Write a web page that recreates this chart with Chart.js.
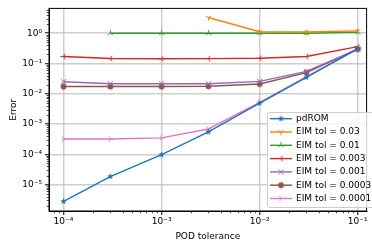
<!DOCTYPE html>
<html>
<head>
<meta charset="utf-8">
<script src="https://cdn.jsdelivr.net/npm/chart.js@4.4.1/dist/chart.umd.min.js"></script>
<style>
  html, body { margin: 0; padding: 0; background: #fff; }
  #wrap { width: 372px; height: 248px; }
</style>
</head>
<body>
<div id="wrap"><canvas id="chart" width="372" height="248"></canvas></div>
<script>
// POD tolerance values (x) and error per series (null = not computed)
const podTol   = [1e-4, 3e-4, 1e-3, 3e-3, 1e-2, 3e-2, 1e-1];
const pdROM    = [2.8e-6, 1.85e-5, 9.8e-5, 5.5e-4, 4.9e-3, 3.5e-2, 0.31];
const eim03    = [null, null, null, 3.3, 1.12, 1.1, 1.2];
const eim01    = [null, 1.0, 1.0, 1.0, 1.0, 1.0, 1.08];
const eim003   = [0.17, 0.147, 0.143, 0.145, 0.15, 0.17, 0.36];
const eim001   = [0.025, 0.0215, 0.0215, 0.0215, 0.0257, 0.055, 0.3];
const eim0003  = [0.0174, 0.0174, 0.0174, 0.0177, 0.021, 0.05, 0.3];
const eim0001  = [3.2e-4, 3.2e-4, 3.5e-4, 6.9e-4, 5.2e-3, 3.7e-2, 0.3];
const seriesNames = ['pdROM', 'EIM tol = 0.03', 'EIM tol = 0.01', 'EIM tol = 0.003',
                     'EIM tol = 0.001', 'EIM tol = 0.0003', 'EIM tol = 0.0001'];

const xTicks = [1e-4, 1e-3, 1e-2, 1e-1];
const xTickLabels = ['10⁻⁴', '10⁻³', '10⁻²', '10⁻¹'];
const yTicks = [1e-5, 1e-4, 1e-3, 1e-2, 1e-1, 1];
const yTickLabels = ['10⁻⁵', '10⁻⁴', '10⁻³', '10⁻²', '10⁻¹', '10⁰'];

const FONT = 'DejaVu Sans';

// matplotlib-like marker images
function marker(kind, color){
  const s = 11, c = document.createElement('canvas');
  c.width = s; c.height = s;
  const g = c.getContext('2d');
  const m = s / 2;
  g.strokeStyle = color; g.fillStyle = color; g.lineWidth = 1;
  g.beginPath();
  if (kind === 'star'){
    for (let i = 0; i < 10; i++){
      const r = i % 2 ? 1.4 : 3.5;
      const a = -Math.PI / 2 + i * Math.PI / 5;
      const px = m + r * Math.cos(a), py = m + r * Math.sin(a);
      i ? g.lineTo(px, py) : g.moveTo(px, py);
    }
    g.closePath(); g.fill();
  } else if (kind === 'circle'){
    g.arc(m, m, 2.9, 0, Math.PI * 2); g.fill();
  } else if (kind === 'x'){
    g.moveTo(m - 2.7, m - 2.7); g.lineTo(m + 2.7, m + 2.7);
    g.moveTo(m - 2.7, m + 2.7); g.lineTo(m + 2.7, m - 2.7);
    g.stroke();
  } else {
    const angs = {down: [90, 210, 330], up: [270, 30, 150], left: [180, 300, 60], right: [0, 120, 240]}[kind];
    angs.forEach(a => {
      const r = a * Math.PI / 180;
      g.moveTo(m, m); g.lineTo(m + 3.2 * Math.cos(r), m + 3.2 * Math.sin(r));
    });
    g.stroke();
  }
  return c;
}

const colors = ['#1f77b4', '#ff7f0e', '#2ca02c', '#d62728', '#9467bd', '#8c564b', '#e377c2'];
const kinds = ['star', 'down', 'up', 'left', 'x', 'circle', 'right'];
const allSeries = [pdROM, eim03, eim01, eim003, eim001, eim0003, eim0001];
const markers = kinds.map((k, i) => marker(k, colors[i]));

const datasets = allSeries.map((s, i) => ({
  label: seriesNames[i],
  data: podTol.map((x, j) => ({x: x, y: s[j]})).filter(p => p.y !== null),
  borderColor: colors[i],
  backgroundColor: colors[i],
  borderWidth: 1.4,
  pointStyle: markers[i],
  pointRadius: 3,
  showLine: true,
  fill: false
}));

// minor ticks, top/right spines and the legend box
const decor = {
  id: 'decor',
  afterDraw(chart){
    const ctx = chart.ctx, a = chart.chartArea;
    const xs = chart.scales.x, ys = chart.scales.y;
    ctx.save();
    ctx.strokeStyle = '#000'; ctx.lineWidth = 0.7;
    ctx.beginPath();
    for (let d = -6; d <= 1; d++){
      for (let k = 2; k <= 9; k++){
        const v = k * Math.pow(10, d);
        if (v > xs.min && v < xs.max){
          const px = Math.round(xs.getPixelForValue(v)) + 0.5;
          ctx.moveTo(px, a.bottom); ctx.lineTo(px, a.bottom + 2.3);
        }
        if (v > ys.min && v < ys.max){
          const py = Math.round(ys.getPixelForValue(v)) + 0.5;
          ctx.moveTo(a.left, py); ctx.lineTo(a.left - 2.3, py);
        }
      }
    }
    ctx.stroke();
    ctx.lineWidth = 1;
    ctx.strokeRect(a.left, a.top, a.right - a.left, a.bottom - a.top);

    // legend
    const bx = 267, by = 112, bw = 112, bh = 95;
    ctx.fillStyle = 'rgba(255,255,255,0.8)';
    ctx.strokeStyle = '#cccccc';
    ctx.beginPath();
    ctx.roundRect(bx + 0.5, by + 0.5, bw, bh, 2.5);
    ctx.fill(); ctx.stroke();
    ctx.font = '9px "' + FONT + '"';
    ctx.textBaseline = 'middle';
    seriesNames.forEach((name, i) => {
      const y = 118.7 + i * 13.3;
      ctx.strokeStyle = colors[i]; ctx.lineWidth = 1.4;
      ctx.beginPath(); ctx.moveTo(270, y); ctx.lineTo(292, y); ctx.stroke();
      ctx.drawImage(markers[i], 281 - markers[i].width / 2, y - markers[i].height / 2);
      ctx.fillStyle = '#000';
      ctx.fillText(name, 296, y);
    });
    ctx.restore();
  }
};

const tickFont = {family: FONT, size: 9};

new Chart(document.getElementById('chart'), {
  type: 'line',
  data: {datasets: datasets},
  options: {
    responsive: false,
    animation: false,
    layout: {padding: {top: 2, right: 0, left: 0, bottom: 0}},
    plugins: {legend: {display: false}, tooltip: {enabled: false}},
    scales: {
      x: {
        type: 'logarithmic',
        bounds: 'data',
        min: Math.pow(10, -4.148),
        max: Math.pow(10, -0.91),
        afterBuildTicks: s => { s.ticks = xTicks.map(v => ({value: v, major: true})); },
        afterFit: s => { s.height = 37; },
        ticks: {
          autoSkip: false, maxRotation: 0, padding: 1,
          color: '#000', font: tickFont,
          callback: (v) => xTickLabels[xTicks.indexOf(v)]
        },
        grid: {color: 'rgba(190,190,190,0.75)', lineWidth: 1.5, tickColor: '#000', tickLength: 4, tickWidth: 1},
        border: {color: '#000', width: 1},
        title: {display: true, text: 'POD tolerance', color: '#000', font: {family: FONT, size: 9}, padding: {top: 0, bottom: 6}}
      },
      y: {
        type: 'logarithmic',
        bounds: 'data',
        min: Math.pow(10, -5.87),
        max: Math.pow(10, 0.82),
        afterBuildTicks: s => { s.ticks = yTicks.map(v => ({value: v, major: true})); },
        afterFit: s => { s.width = 49; },
        ticks: {
          autoSkip: false, padding: 3,
          color: '#000', font: tickFont,
          callback: (v) => yTickLabels[yTicks.indexOf(v)]
        },
        grid: {color: 'rgba(190,190,190,0.75)', lineWidth: 1.5, tickColor: '#000', tickLength: 4, tickWidth: 1},
        border: {color: '#000', width: 1},
        title: {display: true, text: 'Error', color: '#000', font: {family: FONT, size: 9}, padding: {top: 8, bottom: 0}}
      }
    }
  },
  plugins: [decor]
});
</script>
</body>
</html>
